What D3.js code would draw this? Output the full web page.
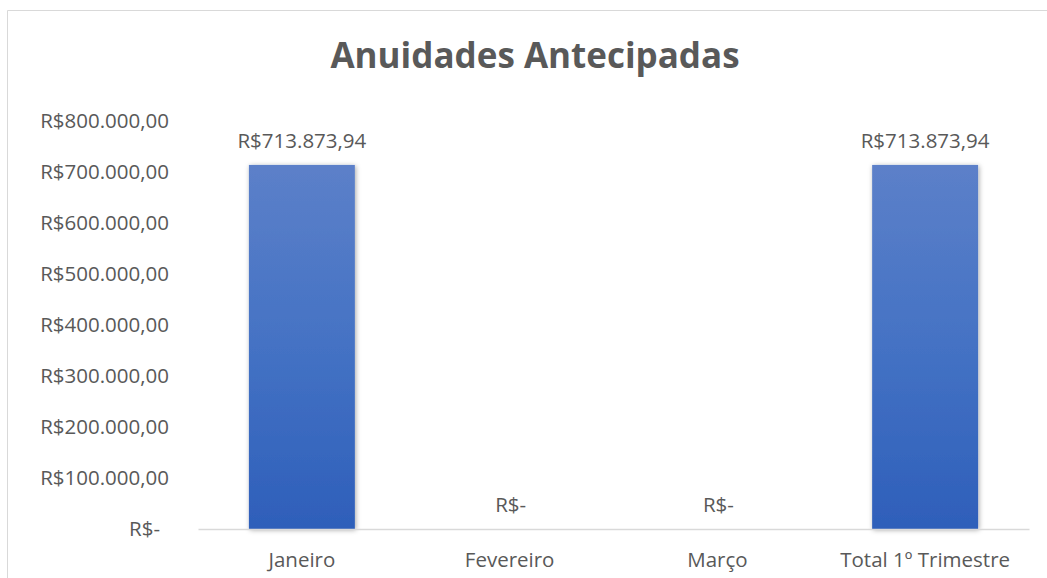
<!DOCTYPE html>
<html>
<head>
<meta charset="utf-8">
<script src="https://cdn.jsdelivr.net/npm/d3@7"></script>
<style>
body { margin: 0; background: #fff; }
text { font-family: "Open Sans", sans-serif; fill: #595959; }
</style>
</head>
<body>
<div id="chart"></div>
<script>
// chart data
var categories = ["Janeiro", "Fevereiro", "Março", "Total 1º Trimestre"];
var values = [713873.94, 0, 0, 713873.94];
var tickValues = [0, 100000, 200000, 300000, 400000, 500000, 600000, 700000, 800000];
var title = "Anuidades Antecipadas";

var W = 1047, H = 578;
var margin = {top: 121, right: 18, bottom: 49, left: 198},
    width = W - margin.left - margin.right,
    height = H - margin.top - margin.bottom;

// pt-BR currency, Excel accounting style
function brl(v, dec) {
    if (v === 0) return "R$-";
    var s = v.toFixed(dec).split(".");
    var intPart = s[0].replace(/\B(?=(\d{3})+(?!\d))/g, ".");
    return "R$" + intPart + "," + s[1];
}

var svg = d3.select("#chart").append("svg")
    .attr("width", W)
    .attr("height", H);

// chart border
svg.append("path")
    .attr("d", "M7.5," + H + "V10.5H" + W)
    .attr("fill", "none")
    .attr("stroke", "#d9d9d9")
    .attr("stroke-width", 1);

var defs = svg.append("defs");
var grad = defs.append("linearGradient")
    .attr("id", "barGrad")
    .attr("x1", 0).attr("y1", 0).attr("x2", 0).attr("y2", 1);
grad.append("stop").attr("offset", "0%").attr("stop-color", "#5c80c9");
grad.append("stop").attr("offset", "50%").attr("stop-color", "#4472c4");
grad.append("stop").attr("offset", "100%").attr("stop-color", "#2e5fba");

var shadow = defs.append("filter")
    .attr("id", "shadow")
    .attr("x", "-20%").attr("y", "-5%").attr("width", "140%").attr("height", "110%");
shadow.append("feDropShadow")
    .attr("dx", 1).attr("dy", 1)
    .attr("stdDeviation", 2.5)
    .attr("flood-color", "#000")
    .attr("flood-opacity", 0.35);

// title
svg.append("text")
    .attr("x", 535)
    .attr("y", 56)
    .attr("dy", "0.35em")
    .attr("text-anchor", "middle")
    .style("font-size", "35px")
    .style("font-weight", "bold")
    .text(title);

var g = svg.append("g")
    .attr("transform", `translate(${margin.left}, ${margin.top})`);

var x = d3.scaleBand().domain(categories).range([0, width]).paddingInner(0.49).paddingOuter(0.245);
var y = d3.scaleLinear().domain([0, 800000]).range([height, 0]);

// y axis labels (no axis line)
var yAxis = g.append("g")
    .call(d3.axisLeft(y).tickValues(tickValues).tickSize(0).tickPadding(29).tickFormat(d => brl(d, 2)));
yAxis.select(".domain").remove();
yAxis.selectAll("text")
    .attr("fill", null)
    .style("font-size", "20.5px")
    .attr("x", d => d === 0 ? -38 : -29);

// bars
g.selectAll("rect.bar")
    .data(values)
    .enter().append("rect")
    .attr("class", "bar")
    .attr("x", (d, i) => x(categories[i]))
    .attr("y", d => y(d))
    .attr("width", x.bandwidth())
    .attr("height", d => height - y(d))
    .attr("fill", "url(#barGrad)")
    .attr("filter", "url(#shadow)");

// x axis
var xAxis = g.append("g")
    .attr("transform", `translate(0, ${height})`)
    .call(d3.axisBottom(x).tickSize(0).tickPadding(23));
xAxis.select(".domain").attr("stroke", "#d9d9d9").attr("stroke-width", 1.5);
xAxis.selectAll("text")
    .attr("fill", null)
    .style("font-size", "20.5px");

// data labels
g.selectAll("text.label")
    .data(values)
    .enter().append("text")
    .attr("class", "label")
    .attr("x", (d, i) => x(categories[i]) + x.bandwidth() / 2 + (d === 0 ? 1 : 0))
    .attr("y", d => y(d) - 24)
    .attr("dy", "0.35em")
    .attr("text-anchor", "middle")
    .style("font-size", "20.5px")
    .text(d => brl(d, 2));
</script>
</body>
</html>
